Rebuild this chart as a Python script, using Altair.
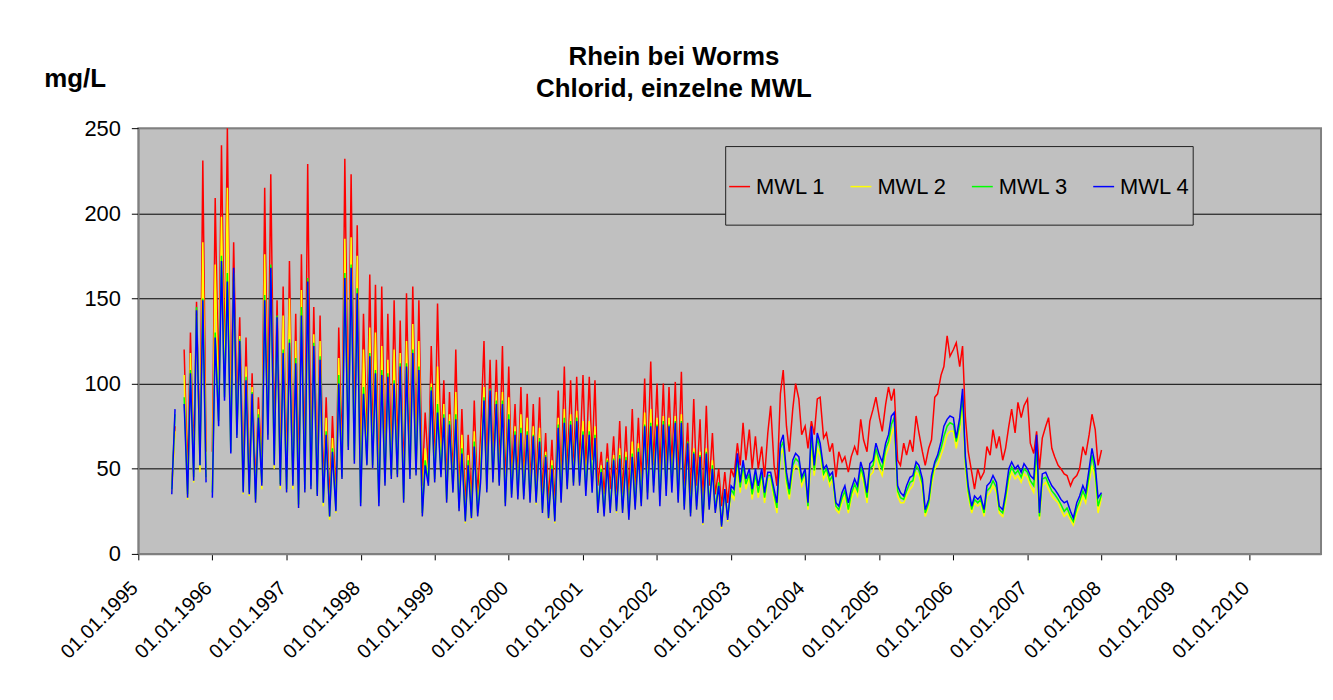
import altair as alt
import pandas as pd

FONT = "Liberation Sans"
SERIES = ["MWL 1", "MWL 2", "MWL 3", "MWL 4"]
COLORS = ["#FF0000", "#FFFF00", "#00FF00", "#0000FF"]
YEAR_TICKS = list(range(1995, 2011))
Y_TICKS = [0, 50, 100, 150, 200, 250]
TITLE = ["Rhein bei Worms", "Chlorid, einzelne MWL"]
UNIT = "mg/L"
START = "1995-06-15"  # semi-monthly readings (1st and 15th of each month)

# values, one row per year (1995: Jun15..Dec15, 2007 incl. 01.01.2008)
mwl1 = [
    40, 75, None, None, 120, 45, 130, 55, 148, 58, 231, 60, None,
    60, 209, 95, 240, 110, 250, 75, 183, 85, 139, 45, 127, 42, 106, 38, 92, 50, 215, 80, 223, 65, 149, 48, 157,
    45, 172, 50, 141, 40, 176, 48, 229, 50, 145, 45, 140, 38, 92, 30, 81, 32, 133, 55, 232, 75, 223, 65, 193,
    52, 141, 65, 164, 62, 158, 40, 157, 50, 141, 55, 149, 58, 137, 40, 153, 55, 157, 60, 149, 40, 83, 50, 122,
    55, 147, 60, 102, 40, 95, 45, 120, 35, 85, 28, 70, 30, 90, 32, 70, 125, 48, 114, 52, 114, 50, 122, 38,
    110, 45, 88, 42, 98, 42, 94, 40, 88, 40, 92, 35, 71, 30, 67, 28, 96, 40, 110, 48, 102, 50, 104, 52,
    105, 50, 104, 55, 102, 40, 60, 35, 65, 38, 69, 36, 78, 35, 75, 32, 85, 38, 80, 42, 103, 50, 113, 52,
    100, 48, 100, 50, 98, 52, 101, 45, 107, 40, 77, 35, 91, 40, 79, 30, 87, 40, 71, 35, 50, 28, 48, 30,
    50, 45, 65, 52, 77, 55, 73, 50, 69, 50, 63, 45, 71, 87, 52, 40, 94, 108, 75, 60, 85, 100, 91, 70,
    75, 62, 78, 70, 91, 92, 68, 71, 60, 65, 45, 60, 54, 57, 48, 57, 63, 58, 79, 67, 60, 78, 85, 92,
    80, 72, 88, 98, 90, 97, 55, 52, 65, 58, 67, 60, 81, 71, 60, 52, 62, 67, 92, 94, 105, 110, 128, 116,
    120, 124, 110, 122, 80, 60, 48, 38, 50, 44, 48, 63, 58, 73, 62, 69, 55, 62, 75, 85, 71, 89, 80, 87,
    91, 65, 59, 72, 50, 68, 75, 80, 62, 57, 52, 50, 47, 46, 40, 44, 46, 50, 63, 58, 70, 82, 73, 52, 61,
]
mwl2 = [
    36, 72, None, None, 105, 32, 118, 42, 140, 48, 183, 44, None,
    40, 170, 80, 198, 95, 215, 62, 160, 68, 128, 35, 110, 34, 98, 30, 85, 38, 176, 68, 165, 50, 137, 38, 140,
    36, 150, 38, 125, 27, 155, 36, 155, 38, 129, 34, 125, 28, 80, 20, 68, 24, 115, 44, 185, 62, 186, 54, 175,
    30, 120, 52, 133, 50, 130, 30, 122, 40, 114, 44, 120, 45, 118, 30, 125, 45, 135, 46, 125, 22, 62, 40, 100,
    42, 110, 45, 88, 30, 82, 36, 95, 25, 70, 18, 58, 20, 72, 22, 50, 98, 36, 96, 42, 95, 40, 95, 28,
    92, 34, 75, 32, 82, 32, 80, 30, 75, 29, 74, 24, 60, 20, 55, 18, 80, 30, 85, 38, 82, 40, 84, 40,
    78, 36, 78, 38, 75, 24, 52, 22, 56, 24, 58, 24, 62, 24, 60, 20, 66, 26, 65, 28, 83, 34, 85, 38,
    80, 30, 81, 36, 80, 38, 81, 30, 82, 26, 62, 22, 62, 26, 60, 17, 62, 26, 55, 24, 38, 15, 36, 19,
    35, 32, 52, 36, 50, 38, 45, 32, 44, 33, 45, 30, 44, 44, 32, 24, 58, 62, 40, 32, 48, 52, 50, 40,
    45, 26, 62, 46, 62, 58, 44, 48, 40, 44, 26, 24, 30, 34, 24, 32, 38, 34, 48, 42, 30, 46, 48, 58,
    50, 46, 58, 62, 70, 75, 34, 30, 30, 34, 38, 40, 48, 46, 38, 22, 28, 40, 50, 52, 58, 63, 70, 72,
    72, 62, 72, 88, 50, 34, 24, 30, 28, 30, 22, 34, 36, 40, 36, 24, 22, 30, 42, 48, 44, 46, 42, 47,
    45, 40, 36, 52, 20, 40, 42, 38, 34, 32, 30, 26, 22, 24, 20, 17, 24, 28, 34, 30, 42, 52, 44, 24, 33,
]
mwl3 = [
    38, 82, None, None, 92, 35, 108, 45, 145, 52, 150, 45, None,
    36, 130, 78, 175, 92, 165, 60, 165, 70, 126, 37, 104, 36, 95, 32, 82, 42, 152, 70, 170, 53, 140, 41, 120,
    38, 126, 41, 115, 29, 145, 38, 162, 40, 124, 35, 116, 30, 72, 22, 62, 26, 105, 45, 165, 63, 170, 55, 156,
    30, 98, 53, 118, 52, 108, 30, 108, 42, 106, 46, 102, 47, 112, 32, 112, 46, 120, 48, 110, 24, 55, 42, 98,
    44, 88, 47, 82, 32, 78, 38, 82, 27, 62, 20, 55, 22, 66, 24, 45, 92, 38, 97, 44, 90, 42, 90, 30,
    82, 35, 72, 34, 74, 34, 72, 32, 70, 31, 68, 26, 58, 22, 52, 20, 76, 32, 80, 40, 78, 42, 80, 42,
    72, 38, 72, 40, 70, 26, 50, 24, 55, 26, 56, 26, 58, 26, 57, 22, 59, 28, 62, 30, 76, 36, 77, 40,
    76, 32, 78, 38, 76, 40, 78, 32, 78, 28, 66, 24, 60, 28, 58, 19, 60, 28, 52, 26, 42, 17, 38, 21,
    38, 35, 56, 39, 52, 41, 47, 35, 47, 36, 48, 33, 46, 46, 35, 27, 62, 66, 44, 35, 52, 56, 54, 43,
    48, 28, 70, 49, 68, 62, 47, 50, 43, 46, 28, 26, 33, 37, 26, 35, 41, 37, 51, 45, 33, 50, 52, 62,
    54, 50, 62, 66, 76, 80, 37, 33, 32, 37, 42, 43, 52, 49, 41, 24, 30, 43, 53, 56, 62, 69, 75, 77,
    76, 66, 76, 93, 54, 37, 26, 32, 30, 32, 24, 37, 39, 43, 39, 26, 24, 33, 46, 51, 47, 49, 45, 50,
    48, 43, 40, 62, 22, 44, 45, 41, 37, 35, 32, 29, 25, 27, 22, 19, 27, 31, 37, 33, 46, 58, 48, 28, 35,
]
mwl4 = [
    35, 85, None, None, 88, 33, 106, 43, 143, 52, 149, 42, None,
    33, 127, 75, 172, 90, 160, 59, 168, 68, 125, 36, 102, 35, 94, 30, 80, 40, 149, 67, 168, 52, 139, 40, 118,
    36, 124, 40, 112, 27, 140, 36, 160, 38, 122, 34, 114, 30, 70, 22, 60, 25, 100, 44, 162, 61, 168, 53, 153,
    28, 94, 52, 116, 50, 106, 28, 105, 40, 104, 44, 100, 45, 110, 30, 110, 44, 118, 46, 108, 22, 52, 40, 96,
    42, 83, 45, 80, 30, 76, 36, 79, 25, 59, 19, 52, 21, 63, 22, 42, 90, 36, 96, 42, 88, 40, 88, 28,
    79, 33, 70, 32, 71, 32, 70, 30, 69, 30, 66, 24, 57, 21, 50, 19, 74, 30, 77, 38, 76, 40, 78, 40,
    70, 34, 70, 36, 68, 24, 48, 22, 54, 24, 55, 25, 56, 24, 55, 20, 57, 26, 60, 28, 75, 32, 75, 36,
    75, 28, 76, 34, 75, 36, 77, 30, 77, 26, 65, 22, 59, 26, 57, 18, 59, 26, 50, 24, 40, 16, 38, 20,
    40, 38, 59, 42, 55, 44, 50, 38, 50, 40, 50, 36, 48, 48, 38, 30, 65, 70, 48, 38, 55, 59, 57, 45,
    50, 30, 75, 52, 71, 65, 50, 52, 46, 48, 30, 28, 36, 40, 30, 38, 44, 40, 54, 48, 36, 53, 55, 65,
    58, 54, 65, 70, 81, 83, 40, 36, 34, 40, 45, 46, 54, 52, 44, 26, 32, 46, 54, 58, 66, 75, 79, 81,
    80, 68, 80, 97, 57, 40, 28, 34, 32, 34, 26, 40, 42, 46, 42, 28, 26, 36, 50, 54, 50, 52, 48, 53,
    50, 46, 44, 70, 24, 47, 48, 44, 40, 38, 35, 32, 30, 31, 25, 21, 30, 34, 40, 36, 50, 62, 52, 33, 36,
]

assert len(mwl1) == len(mwl2) == len(mwl3) == len(mwl4)
dates = pd.date_range(START, periods=len(mwl1), freq="SMS")

rows = []
for name, vals in zip(SERIES, [mwl1, mwl2, mwl3, mwl4]):
    for d, v in zip(dates, vals):
        rows.append({"date": d, "series": name, "value": v})
df = pd.DataFrame(rows)
df["value"] = df["value"].astype(float)

x_enc = alt.X(
    "date:T",
    title=None,
    scale=alt.Scale(
        domain=[alt.DateTime(year=1995, month=1, date=1), alt.DateTime(year=2010, month=12, date=18)],
        nice=False,
    ),
    axis=alt.Axis(
        values=[alt.DateTime(year=y, month=1, date=1) for y in YEAR_TICKS],
        format="%d.%m.%Y",
        labelAngle=-45,
        labelAlign="right",
        labelBaseline="middle",
        labelPadding=25,
        labelOffset=-4,
        labelFontSize=20,
        labelFont=FONT,
        labelColor="black",
        labelOverlap=False,
        labelFlush=False,
        tickColor="black",
        tickSize=6,
        domainColor="#808080",
        domainWidth=1.5,
        grid=False,
    ),
)
y_enc = alt.Y(
    "value:Q",
    title=UNIT,
    scale=alt.Scale(domain=[0, 250], nice=False),
    axis=alt.Axis(
        values=Y_TICKS,
        labelFontSize=22,
        labelFont=FONT,
        labelColor="black",
        labelPadding=11,
        tickColor="black",
        tickSize=7,
        domainColor="#808080",
        domainWidth=1.5,
        grid=True,
        gridColor={"condition": {"test": "datum.value === 0 || datum.value === 250", "value": "#808080"}, "value": "black"},
        gridWidth=1,
        titleAngle=0,
        titleX=-95,
        titleY=-42,
        titleAlign="left",
        titleBaseline="alphabetic",
        titleFont=FONT,
        titleFontSize=26,
        titleFontWeight="bold",
        titleColor="black",
    ),
)
color_enc = alt.Color(
    "series:N",
    scale=alt.Scale(domain=SERIES, range=COLORS),
    legend=alt.Legend(
        title=" ",
        titleFontSize=20,
        titlePadding=6,
        orient="none",
        legendX=590,
        legendY=18,
        direction="horizontal",
        columns=4,
        symbolType="stroke",
        symbolSize=441,
        symbolStrokeWidth=1.5,
        labelFontSize=22,
        labelFont=FONT,
        labelColor="black",
        labelOffset=5,
        columnPadding=22,
        padding=3,
        strokeColor="#202020",
        fillColor="#C0C0C0",
        labelExpr="[datum.label, '']",
    ),
)

layers = [
    alt.Chart()
    .transform_filter(alt.datum.series == name)
    .mark_line(strokeWidth=1.5)
    .encode(x=x_enc, y=y_enc, color=color_enc)
    for name in SERIES
]

chart = (
    alt.layer(*layers, data=df)
    .properties(
        width=1189,
        height=428,
        autosize=alt.AutoSizeParams(type="none"),
        padding={"left": 131, "top": 119, "right": 4, "bottom": 130},
        title=alt.TitleParams(
            text=TITLE,
            font=FONT,
            fontSize=26,
            fontWeight="bold",
            color="black",
            anchor="middle",
            frame="group",
            dx=-56,
            offset=-37,
            lineHeight=32,
        ),
    )
    .configure_view(fill="#C0C0C0", stroke="#808080", strokeWidth=2)
)

chart.save("out.html", embed_options={"renderer": "svg", "actions": False})
